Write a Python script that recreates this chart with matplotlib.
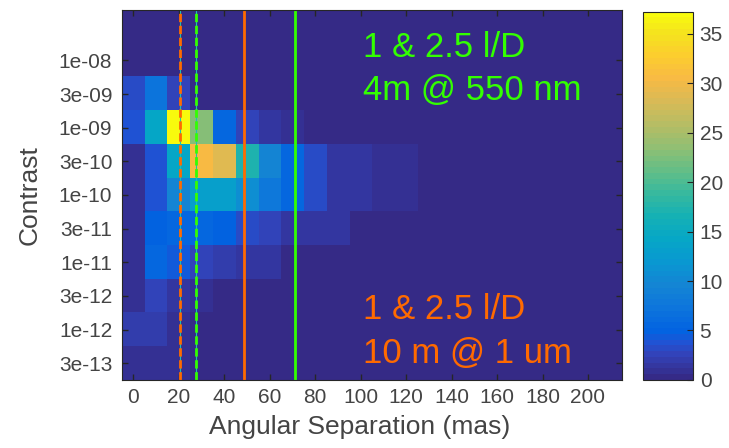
import numpy as np
import matplotlib
matplotlib.use("Agg")
import matplotlib.pyplot as plt
from matplotlib.colors import LinearSegmentedColormap

plt.rcParams['font.family'] = ['Liberation Sans', 'DejaVu Sans']

# separation bins (mas), bin centres
sep_centres = np.arange(0, 220, 10)
# contrast rows, top to bottom (top row has no label)
contrast_labels = ['', '1e-08', '3e-09', '1e-09', '3e-10', '1e-10',
                   '3e-11', '1e-11', '3e-12', '1e-12', '3e-13']

# counts per (contrast, separation) bin
counts = np.zeros((len(contrast_labels), len(sep_centres)))
counts[2, :3] = [3.2, 7.0, 2.6]
counts[3, :8] = [3.5, 14.0, 37.2, 23.0, 5.6, 2.6, 1.4, 0.9]
counts[4, :13] = [0.7, 3.7, 14.0, 30.5, 29.0, 17.0, 9.3, 5.3, 3.3, 1.7, 1.7, 1.0, 1.0]
counts[5, :13] = [0.7, 3.8, 9.3, 12.8, 12.8, 10.5, 8.0, 5.6, 3.3, 1.7, 1.7, 1.0, 1.0]
counts[6, :10] = [0.8, 4.8, 5.6, 5.6, 4.8, 3.3, 2.6, 1.4, 1.4, 1.4]
counts[7, :7] = [0.8, 5.4, 4.6, 2.6, 2.0, 1.4, 1.4]
counts[8, :4] = [0.7, 2.6, 1.4, 1.0]
counts[9, :3] = [1.8, 1.8, 1.0]
counts[10, :3] = [0.7, 0.7, 0.7]

# 1 and 2.5 l/D limits (mas)
orange_lines = [20.6, 48.5]   # 10 m @ 1 um
green_lines = [27.6, 70.9]    # 4 m @ 550 nm

# parula-like colormap
parula_pts = [
    (0.2081, 0.1663, 0.5292), (0.1959, 0.2645, 0.7279), (0.1253, 0.3242, 0.8303),
    (0.0117, 0.3875, 0.8820), (0.0498, 0.4586, 0.8641), (0.0793, 0.5200, 0.8312),
    (0.0343, 0.5966, 0.8199), (0.0228, 0.6535, 0.7768), (0.0843, 0.6928, 0.7062),
    (0.2178, 0.7250, 0.6193), (0.3953, 0.7459, 0.5244), (0.5709, 0.7485, 0.4494),
    (0.7184, 0.7411, 0.3905), (0.8507, 0.7299, 0.3360), (0.9739, 0.7314, 0.2666),
    (0.9880, 0.8066, 0.1794), (0.9589, 0.8949, 0.1132), (0.9763, 0.9831, 0.0538)]
parula_pos = [0, 4, 6, 8, 12, 16, 20, 24, 28, 32, 36, 40, 44, 48, 52, 56, 60, 63]
parula = LinearSegmentedColormap.from_list(
    'parula', [(p / 63, c) for p, c in zip(parula_pos, parula_pts)], N=64)

fig = plt.figure(figsize=(7.29, 4.48), dpi=100)
ax = fig.add_axes([0.1674, 0.1518, 0.6859, 0.8259])
cax = fig.add_axes([0.8816, 0.1518, 0.0686, 0.8220])

im = ax.imshow(counts, cmap=parula, vmin=0, vmax=counts.max(),
               extent=(sep_centres[0] - 5, sep_centres[-1] + 5,
                       len(contrast_labels) - 0.5, -0.5),
               aspect='auto', interpolation='nearest')

orange = '#ff6a00'
green = '#33ff00'
teal = '#1fc0b0'
ax.axvline(orange_lines[0], color=teal, lw=0.8)
ax.axvline(orange_lines[0], color=orange, lw=2, ls=(0, (3, 1.3)))
ax.axvline(green_lines[0], color=teal, lw=0.8)
ax.axvline(green_lines[0], color=green, lw=2, ls=(0, (3, 1.3)))
ax.axvline(orange_lines[1], color=orange, lw=2)
ax.axvline(green_lines[1], color=green, lw=2)

ax.text(0.482, 0.873, '1 & 2.5 l/D', color=green, fontsize=25,
        transform=ax.transAxes, va='baseline')
ax.text(0.482, 0.756, '4m @ 550 nm', color=green, fontsize=25,
        transform=ax.transAxes, va='baseline')
ax.text(0.482, 0.164, '1 & 2.5 l/D', color=orange, fontsize=25,
        transform=ax.transAxes, va='baseline')
ax.text(0.482, 0.047, '10 m @ 1 um', color=orange, fontsize=25,
        transform=ax.transAxes, va='baseline')

ax.set_xticks(np.arange(0, 201, 20))
ax.set_yticks(range(1, len(contrast_labels)))
ax.set_yticklabels(contrast_labels[1:])
ax.tick_params(direction='in', length=4, width=1, colors='#262626',
               labelcolor='#444444', labelsize=15, top=True, right=True)
ax.tick_params(axis='x', pad=6)
ax.tick_params(axis='y', pad=7)
for s in ax.spines.values():
    s.set_color('#262626')

ax.set_xlabel('Angular Separation (mas)', fontsize=19, color='#444444')
ax.set_ylabel('Contrast', fontsize=19, color='#444444')
ax.xaxis.set_label_coords(0.475, -0.095)
ax.yaxis.set_label_coords(-0.16, 0.5)

cb = fig.colorbar(im, cax=cax, ticks=range(0, 40, 5))
cb.ax.tick_params(direction='in', length=4, colors='#262626',
                  labelcolor='#444444', labelsize=15, pad=5)
cb.outline.set_edgecolor('#262626')

fig.savefig('out.png', dpi=100)
